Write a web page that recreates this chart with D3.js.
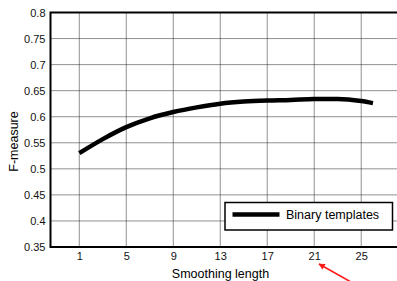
<!DOCTYPE html>
<html>
<head>
<meta charset="utf-8">
<script src="https://cdn.jsdelivr.net/npm/d3@7"></script>
<style>
  body { margin: 0; background: #fff; }
  svg { display: block; font-family: "Liberation Sans", Arial, sans-serif; }
</style>
</head>
<body>
<div id="chart"></div>
<script>
// smoothing length vs F-measure
const lengths = [1, 3, 5, 7, 9, 11, 13, 15, 17, 19, 21, 23, 25, 26];
const fmeasure = [0.530, 0.557, 0.580, 0.597, 0.609, 0.618, 0.625, 0.629, 0.631, 0.632, 0.634, 0.634, 0.630, 0.626];
const xTicks = [1, 5, 9, 13, 17, 21, 25];
const yTicks = [0.35, 0.4, 0.45, 0.5, 0.55, 0.6, 0.65, 0.7, 0.75, 0.8];
const seriesName = "Binary templates";

const W = 397, H = 281;
const margin = { top: 11.5, left: 50.5, bottom: 34 };

const svg = d3.select("#chart").append("svg")
    .attr("width", W)
    .attr("height", H);

const x = d3.scaleLinear()
    .domain([-1.45, 28.6])
    .range([margin.left, margin.left + 353]);

const y = d3.scaleLinear()
    .domain([0.35, 0.8])
    .range([H - margin.bottom, margin.top + 1]);

// grid
svg.append("g")
    .selectAll("line.vg")
    .data(xTicks.concat([29]))
    .join("line")
    .attr("x1", d => x(d)).attr("x2", d => x(d))
    .attr("y1", y(0.8)).attr("y2", y(0.35))
    .attr("stroke", "#222")
    .attr("stroke-width", 1)
    .attr("stroke-dasharray", "1,1");

svg.append("g")
    .selectAll("line.hg")
    .data(yTicks.slice(1))
    .join("line")
    .attr("x1", margin.left).attr("x2", W)
    .attr("y1", d => y(d)).attr("y2", d => y(d))
    .attr("stroke", "#222")
    .attr("stroke-width", 1)
    .attr("stroke-dasharray", "1,1");

// axes
const xAxis = d3.axisBottom(x).tickValues(xTicks).tickSize(0).tickPadding(5);
svg.append("g")
    .attr("transform", `translate(0,${y(0.35)})`)
    .call(xAxis)
    .call(g => g.select(".domain").remove())
    .call(g => g.selectAll("text").attr("fill", "#111").style("font-size", "11px")
        .style("font-family", "Liberation Sans, Arial, sans-serif"));

const yAxis = d3.axisLeft(y).tickValues(yTicks).tickSize(0).tickPadding(4)
    .tickFormat(d => d3.format("")(+d.toFixed(2)));
svg.append("g")
    .attr("transform", `translate(${margin.left - 1},0)`)
    .call(yAxis)
    .call(g => g.select(".domain").remove())
    .call(g => g.selectAll("text").attr("fill", "#111").style("font-size", "11px")
        .style("font-family", "Liberation Sans, Arial, sans-serif"));

// frame (left, top, bottom)
svg.append("path")
    .attr("d", `M${W + 2},${y(0.8)}H${margin.left}V${y(0.35)}H${W + 2}`)
    .attr("fill", "none")
    .attr("stroke", "#000")
    .attr("stroke-width", 2);

// series line
const line = d3.line()
    .x((d, i) => x(lengths[i]))
    .y(d => y(d))
    .curve(d3.curveMonotoneX);

svg.append("path")
    .datum(fmeasure)
    .attr("d", line)
    .attr("fill", "none")
    .attr("stroke", "#000")
    .attr("stroke-width", 4.5);

// legend
const lg = svg.append("g").attr("transform", "translate(225,202.5)");
lg.append("rect")
    .attr("width", 167.5).attr("height", 27.5)
    .attr("fill", "#fff")
    .attr("stroke", "#000")
    .attr("stroke-width", 1.5);
lg.append("line")
    .attr("x1", 7.5).attr("x2", 54.5)
    .attr("y1", 12).attr("y2", 12)
    .attr("stroke", "#000")
    .attr("stroke-width", 4.5);
lg.append("text")
    .attr("x", 61).attr("y", 16.5)
    .style("font-size", "12.5px")
    .text(seriesName);

// labels
svg.append("text")
    .attr("x", 220.5).attr("y", 277.5)
    .attr("text-anchor", "middle")
    .style("font-size", "12.5px")
    .text("Smoothing length");

svg.append("text")
    .attr("transform", "translate(17.5,141.5) rotate(-90)")
    .attr("text-anchor", "middle")
    .style("font-size", "12.5px")
    .text("F-measure");

// red annotation arrow pointing at 21
svg.append("defs").append("marker")
    .attr("id", "ah")
    .attr("viewBox", "0 0 10 10")
    .attr("refX", 9).attr("refY", 5)
    .attr("markerWidth", 5).attr("markerHeight", 4)
    .attr("orient", "auto")
    .append("path")
    .attr("d", "M0,0L10,5L0,10z")
    .attr("fill", "#ff1a1a");

svg.append("line")
    .attr("x1", 351).attr("y1", 282)
    .attr("x2", 319).attr("y2", 264)
    .attr("stroke", "#ff1a1a")
    .attr("stroke-width", 1.6)
    .attr("marker-end", "url(#ah)");
</script>
</body>
</html>
